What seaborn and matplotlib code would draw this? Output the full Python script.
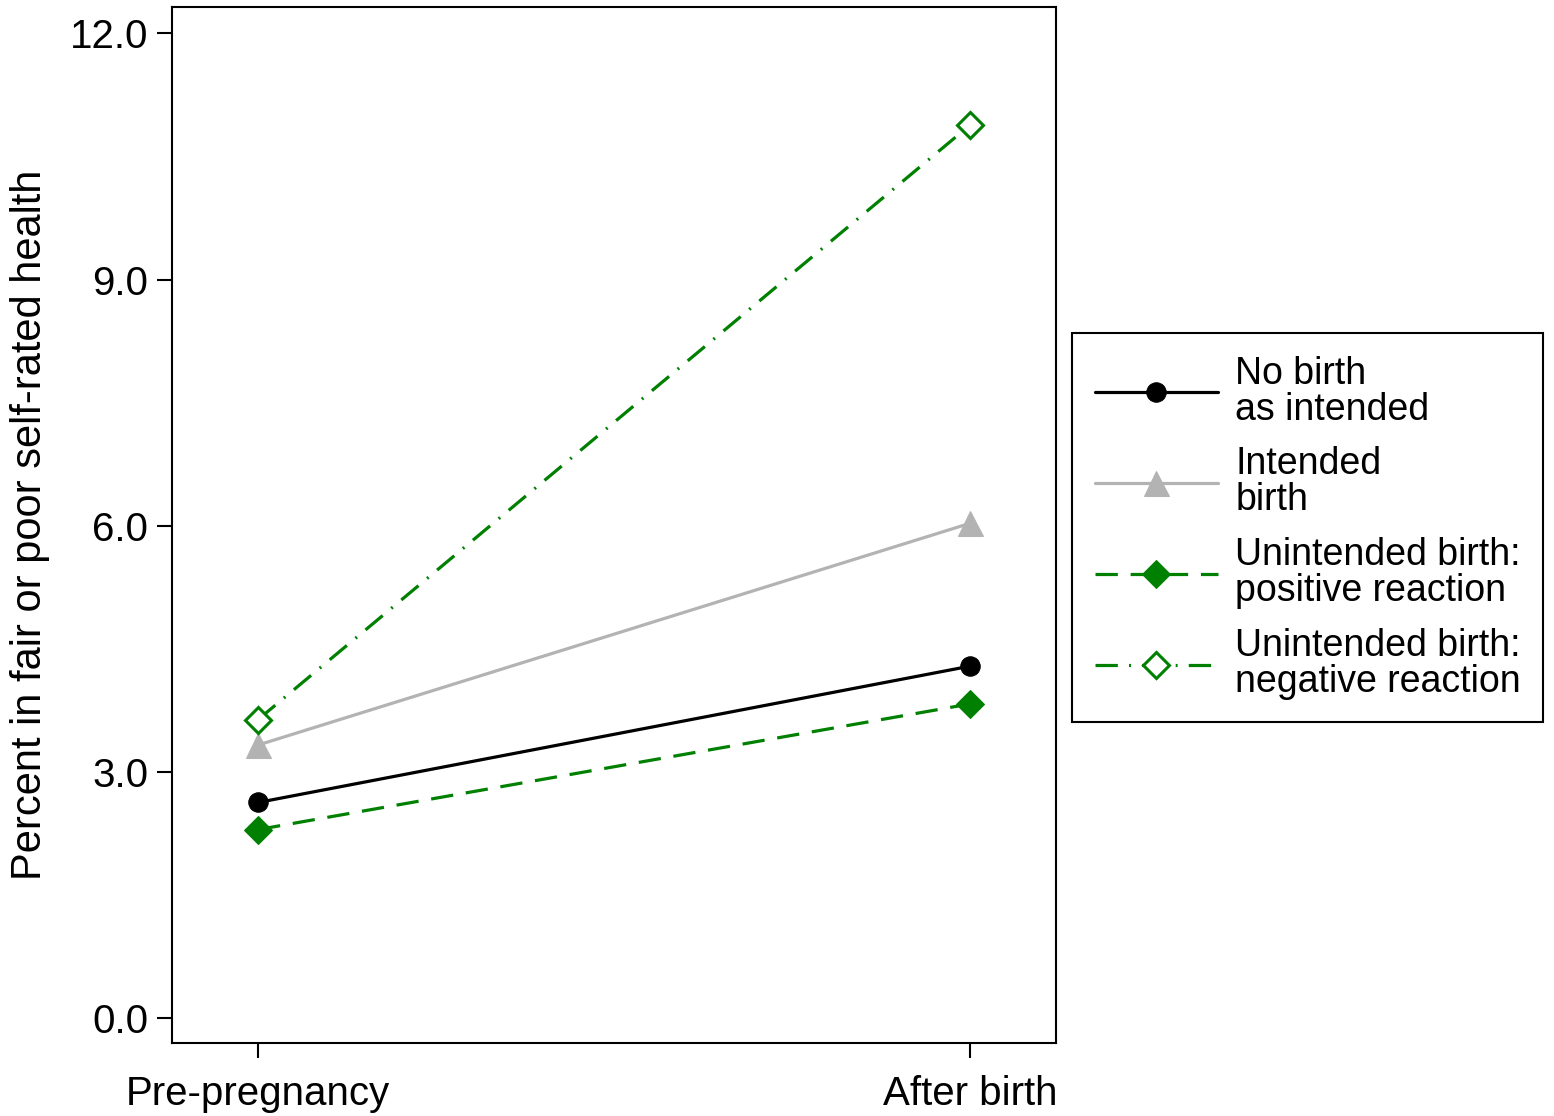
import pandas as pd
import matplotlib
matplotlib.use('Agg')
import matplotlib.pyplot as plt
import seaborn as sns

# values
periods = ['Pre-pregnancy', 'After birth']
no_birth = [2.63, 4.29]
intended = [3.33, 6.03]
unint_positive = [2.30, 3.83]
unint_negative = [3.64, 10.88]

labels = ['No birth\nas intended', 'Intended\nbirth',
          'Unintended birth:\npositive reaction', 'Unintended birth:\nnegative reaction']
yticks = [0.0, 3.0, 6.0, 9.0, 12.0]

sns.set_theme(style='white')
plt.rcParams['font.family'] = ['Liberation Sans', 'DejaVu Sans']
plt.rcParams['text.color'] = 'black'
plt.rcParams['axes.labelcolor'] = 'black'

fig = plt.figure(figsize=(15.54, 11.16), dpi=100)
ax = fig.add_axes([172 / 1554, 1 - 1043 / 1116, (1056 - 172) / 1554, (1043 - 7) / 1116])

green = '#008000'
styles = [
    dict(color='black', marker='o', markersize=14, markerfacecolor='black',
         markeredgecolor='black', linestyle='-'),
    dict(color='#b3b3b3', marker='^', markersize=18, markerfacecolor='#b3b3b3',
         markeredgecolor='#b3b3b3', linestyle='-'),
    dict(color=green, marker='D', markersize=14, markerfacecolor=green,
         markeredgecolor=green, linestyle=(0, (7, 4))),
    dict(color=green, marker='D', markersize=13, markerfacecolor='white',
         markeredgecolor=green, markeredgewidth=2.2, linestyle=(0, (7, 3.5, 0.6, 3.5))),
]

series = [no_birth, intended, unint_positive, unint_negative]
for vals, lab, st in zip(series, labels, styles):
    df = pd.DataFrame({'period': periods, 'pct': vals})
    sns.lineplot(data=df, x='period', y='pct', ax=ax, label=lab, linewidth=2.3, **st)

ax.set_xlim(-0.121, 1.121)
ax.set_ylim(-0.3, 12.32)
ax.set_yticks(yticks)
ax.set_yticklabels([f'{t:.1f}' for t in yticks])
ax.set_xlabel('')
ax.set_ylabel('Percent in fair or poor self-rated health', fontsize=30, labelpad=14,
              color='black')

for sp in ax.spines.values():
    sp.set_visible(True)
    sp.set_color('black')
    sp.set_linewidth(1.5)
ax.tick_params(axis='both', which='major', direction='out', length=11, width=1.5,
               labelsize=29, color='black', labelcolor='black', left=True, bottom=True)
ax.tick_params(axis='x', pad=12)
ax.tick_params(axis='y', pad=6)

handles, labs = ax.get_legend_handles_labels()
ax.get_legend().remove()
leg = fig.legend(handles, labs, loc='upper left',
                 bbox_to_anchor=(1072 / 1554, 1 - 333 / 1116),
                 fontsize=27, handlelength=3.3, frameon=True, fancybox=False,
                 framealpha=1, borderpad=0.6, labelspacing=0.5, handletextpad=0.45,
                 borderaxespad=0)
leg.get_frame().set_edgecolor('black')
leg.get_frame().set_linewidth(1.5)
for t in leg.get_texts():
    t.set_linespacing(1.0)
    t.set_color('black')

fig.savefig('out.png', dpi=100)
